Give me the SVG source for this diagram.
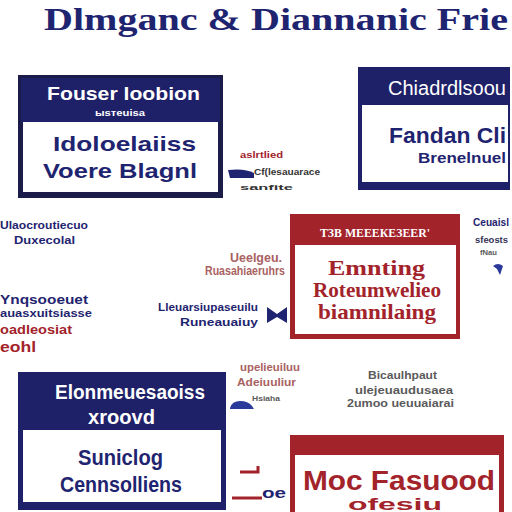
<svg xmlns="http://www.w3.org/2000/svg" width="512" height="512" viewBox="0 0 512 512">
<style>
.t{font-family:"Liberation Sans",Arial,sans-serif;font-weight:bold}
.s{font-family:"Liberation Serif","Times New Roman",serif;font-weight:bold}
.w{fill:#ffffff}.n{fill:#1f2470}.r{fill:#a3232b}.m{fill:#a86262}.g{fill:#5a5a5a}
.nb{fill:#1e2068}.rb{fill:#a3232b}.in{fill:#ffffff}
</style>
<rect width="512" height="512" fill="#ffffff"/>
<text id="title" class="s n" x="44" y="30" font-size="32" textLength="464" lengthAdjust="spacingAndGlyphs">Dlmganc &amp; Diannanic Frie</text>

<g id="node1">
<rect x="18" y="75" width="205" height="123" fill="#1c1c4a"/>
<rect class="nb" x="21" y="78" width="199" height="44"/>
<rect class="in" x="23" y="122" width="195" height="70"/>
<text class="t w" x="47" y="100" font-size="19" textLength="153" lengthAdjust="spacingAndGlyphs">Fouser loobion</text>
<text class="t w" x="95" y="116" font-size="9" textLength="50" lengthAdjust="spacingAndGlyphs">ыsтeuisa</text>
<text class="t n" x="53" y="151" font-size="21" textLength="143" lengthAdjust="spacingAndGlyphs">Idoloelaiiss</text>
<text class="t n" x="43" y="178" font-size="20" textLength="154" lengthAdjust="spacingAndGlyphs">Voere Blagnl</text>
</g>

<g id="node2">
<rect class="nb" x="358" y="67" width="152" height="123"/>
<rect class="in" x="362" y="105" width="146" height="77"/>
<text class="w" font-family="Liberation Sans,Arial,sans-serif" x="388" y="95" font-size="20" textLength="118" lengthAdjust="spacingAndGlyphs">Chiadrdlsoou</text>
<text class="t n" x="389" y="143" font-size="22" textLength="117" lengthAdjust="spacingAndGlyphs">Fandan Cli</text>
<text class="t n" x="418" y="163" font-size="15" textLength="88" lengthAdjust="spacingAndGlyphs">Brenelnuel</text>
</g>

<g id="node3">
<rect class="rb" x="290" y="214" width="170" height="125"/>
<rect class="in" x="295" y="245" width="161" height="89"/>
<text class="s w" x="320" y="237" font-size="12" textLength="110" lengthAdjust="spacingAndGlyphs">TЗВ МЕЕЕКЕЗЕЕR'</text>
<text class="s r" x="328" y="275" font-size="22" textLength="97" lengthAdjust="spacingAndGlyphs">Emnting</text>
<text class="s r" x="313" y="297" font-size="21" textLength="128" lengthAdjust="spacingAndGlyphs">Roteumwelieo</text>
<text class="s r" x="318" y="319" font-size="21" textLength="118" lengthAdjust="spacingAndGlyphs">biamnilaing</text>
</g>

<g id="node4">
<rect class="nb" x="18" y="372" width="208" height="138"/>
<rect class="in" x="23" y="430" width="198" height="72"/>
<text class="t w" x="55" y="399" font-size="20" textLength="150" lengthAdjust="spacingAndGlyphs">Elonmeuesaoiss</text>
<text class="t w" x="88" y="424" font-size="20" textLength="67" lengthAdjust="spacingAndGlyphs">xroovd</text>
<text class="t n" x="78" y="465" font-size="22" textLength="85" lengthAdjust="spacingAndGlyphs">Suniclog</text>
<text class="t n" x="60" y="492" font-size="22" textLength="122" lengthAdjust="spacingAndGlyphs">Cennsolliens</text>
</g>

<g id="node5">
<rect class="rb" x="290" y="435" width="214" height="90"/>
<rect class="in" x="295" y="455" width="204" height="70"/>
<text class="t r" x="303" y="490" font-size="28" textLength="192" lengthAdjust="spacingAndGlyphs">Moc Fasuood</text>
<text class="t r" x="348" y="510" font-size="16" textLength="94" lengthAdjust="spacingAndGlyphs">ofesiu</text>
</g>

<g id="labels">
<text class="t n" x="0" y="229" font-size="11" textLength="88" lengthAdjust="spacingAndGlyphs">Ulaocroutiecuo</text>
<text class="t n" x="14" y="244" font-size="11" textLength="61" lengthAdjust="spacingAndGlyphs">Duxecolal</text>
<text class="t n" x="0" y="304" font-size="12" textLength="88" lengthAdjust="spacingAndGlyphs">Ynqsooeuet</text>
<text class="t n" x="0" y="317" font-size="11" textLength="92" lengthAdjust="spacingAndGlyphs">auasxuitsiasse</text>
<text class="t r" x="0" y="334" font-size="12" textLength="72" lengthAdjust="spacingAndGlyphs">oadleosiat</text>
<text class="t r" x="0" y="352" font-size="14" textLength="36" lengthAdjust="spacingAndGlyphs">eohl</text>
<text class="t m" x="230" y="262" font-size="12" textLength="52" lengthAdjust="spacingAndGlyphs">Ueelgeu.</text>
<text class="t m" x="205" y="275" font-size="12" textLength="80" lengthAdjust="spacingAndGlyphs">Ruasahiaeruhrs</text>
<text class="t n" x="158" y="311" font-size="11" textLength="100" lengthAdjust="spacingAndGlyphs">Lleuarsiupaseuilu</text>
<text class="t n" x="180" y="326" font-size="11" textLength="78" lengthAdjust="spacingAndGlyphs">Runeauaiuy</text>
<text class="t n" x="473" y="226" font-size="10" textLength="36" lengthAdjust="spacingAndGlyphs">Ceuaisl</text>
<text class="t" fill="#333355" x="475" y="243" font-size="9" textLength="33" lengthAdjust="spacingAndGlyphs">sfeosts</text>
<text class="t g" x="480" y="255" font-size="7" textLength="17" lengthAdjust="spacingAndGlyphs">fNau</text>
<text class="t r" x="240" y="158" font-size="9" textLength="43" lengthAdjust="spacingAndGlyphs">aslrtlied</text>
<text class="t" fill="#333" x="254" y="175" font-size="9" textLength="66" lengthAdjust="spacingAndGlyphs">Cf(lesauarace</text>
<text class="t" fill="#333" x="240" y="190" font-size="8" textLength="53" lengthAdjust="spacingAndGlyphs">sanfite</text>
<text class="t m" x="240" y="371" font-size="11" textLength="60" lengthAdjust="spacingAndGlyphs">upelieuiluu</text>
<text class="t m" x="237" y="386" font-size="11" textLength="59" lengthAdjust="spacingAndGlyphs">Adeiuuliur</text>
<text class="t g" x="252" y="401" font-size="8" textLength="28" lengthAdjust="spacingAndGlyphs">Hsiaha</text>
<text class="t g" x="368" y="379" font-size="11" textLength="69" lengthAdjust="spacingAndGlyphs">Bicaulhpaut</text>
<text class="t g" x="355" y="394" font-size="11" textLength="98" lengthAdjust="spacingAndGlyphs">ulejeuaudusaea</text>
<text class="t g" x="347" y="407" font-size="11" textLength="107" lengthAdjust="spacingAndGlyphs">2umoo ueuuaiarai</text>
<text class="t n" x="262" y="498" font-size="14" textLength="24" lengthAdjust="spacingAndGlyphs">oe</text>
</g>

<g id="connectors">
<path d="M228,170 Q245,168 254,173 L254,178 L230,178 Z" fill="#1f2470"/>
<path d="M267,307 L277,314 L287,307 L287,323 L277,317 L267,323 Z" fill="#1f2470"/>
<path d="M493,266 Q498,262 503,266 L500,275 L497,269 Z" fill="#2a3a9a"/>
<path d="M230,408 Q232,401 240,401 Q248,401 252,406 L254,409 L230,409 Z" fill="#2a3a9a"/>
<path d="M240,472 L258,472 L258,466" fill="none" stroke="#a3232b" stroke-width="3"/>
<line x1="232" y1="498" x2="262" y2="498" stroke="#a3232b" stroke-width="3"/>
</g>
</svg>
